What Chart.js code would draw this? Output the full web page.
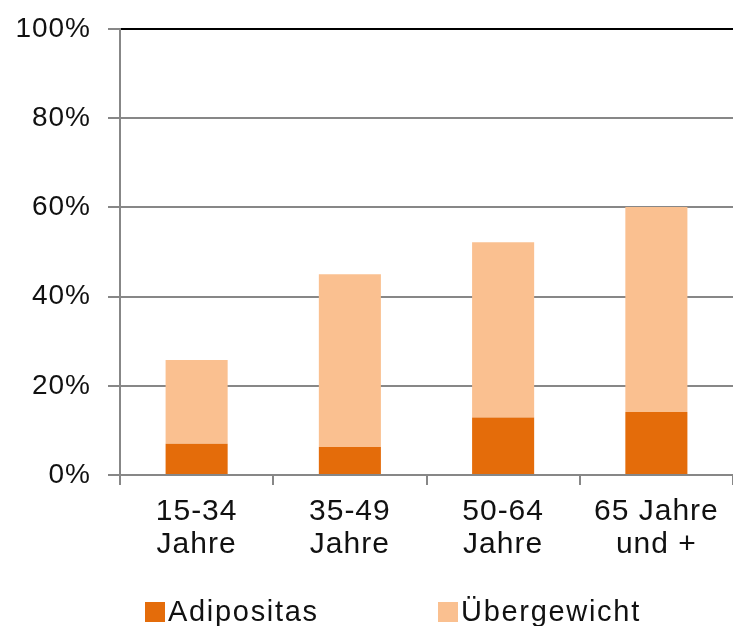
<!DOCTYPE html>
<html>
<head>
<meta charset="utf-8">
<script src="https://cdn.jsdelivr.net/npm/chart.js@4.4.0/dist/chart.umd.min.js"></script>
<style>
  html,body{margin:0;padding:0;background:#fff;}
  #wrap{position:relative;width:733px;height:626px;}
  #legend{position:absolute;left:0;top:0;width:733px;height:626px;pointer-events:none;
    font-family:"Liberation Sans",Arial,sans-serif;font-size:29px;color:#111;letter-spacing:1.7px;}
  .item{position:absolute;top:595px;display:flex;align-items:center;}
  .box{width:20px;height:20px;margin-right:3px;}
</style>
</head>
<body>
<div id="wrap">
  <canvas id="c" width="733" height="626"></canvas>
  <div id="legend"></div>
</div>
<script>
'use strict';
const categories=[['15-34','Jahre'],['35-49','Jahre'],['50-64','Jahre'],['65 Jahre','und +']];
const adipositas=[7.0, 6.3, 12.9, 14.1];
const uebergewicht=[18.8, 38.7, 39.3, 46.0];
const seriesNames=['Adipositas','Übergewicht'];
const seriesColors=['#E46C0A','#FAC090'];
const yTicks=[0,20,40,60,80,100];

const FONT='"Liberation Sans", Arial, sans-serif';
const GRID='#878787';

// the source renders its text slightly spaced out
const spacing={id:'spacing',beforeDraw(c){c.ctx.letterSpacing='1px';}};

const chart=new Chart(document.getElementById('c').getContext('2d'),{
  type:'bar',
  data:{
    labels:categories,
    datasets:[
      {label:seriesNames[0],data:adipositas,backgroundColor:seriesColors[0],barPercentage:0.405,categoryPercentage:1},
      {label:seriesNames[1],data:uebergewicht,backgroundColor:seriesColors[1],barPercentage:0.405,categoryPercentage:1}
    ]
  },
  plugins:[spacing],
  options:{
    responsive:false,
    animation:false,
    events:[],
    layout:{padding:{top:29,right:0,left:0,bottom:0}},
    plugins:{legend:{display:false},tooltip:{enabled:false}},
    scales:{
      x:{
        stacked:true,
        offset:true,
        afterFit:s=>{s.height=151;},
        grid:{offset:true,drawOnChartArea:false,drawTicks:true,tickLength:10,color:GRID,lineWidth:2},
        border:{display:true,color:GRID,width:2},
        ticks:{color:'#111',padding:10,maxRotation:0,autoSkip:false,font:{family:FONT,size:30,lineHeight:1.1}}
      },
      y:{
        stacked:true,
        min:0,max:100,
        afterFit:s=>{s.width=120;},
        afterBuildTicks:s=>{s.ticks=yTicks.map(v=>({value:v}));},
        grid:{
          color:c=>c.tick&&c.tick.value===100?'#000':GRID,
          lineWidth:2,
          tickLength:12,
          tickColor:GRID
        },
        border:{display:true,color:GRID,width:2},
        ticks:{color:'#111',padding:17,callback:v=>v+'%',font:{family:FONT,size:28,lineHeight:0.8}}
      }
    }
  }
});

const legend=document.getElementById('legend');
const legendLeft=[145,438];
seriesNames.forEach((n,i)=>{
  const it=document.createElement('div');
  it.className='item';
  it.style.left=legendLeft[i]+'px';
  it.innerHTML='<span class="box" style="background:'+seriesColors[i]+'"></span><span>'+n+'</span>';
  legend.appendChild(it);
});
</script>
</body>
</html>
